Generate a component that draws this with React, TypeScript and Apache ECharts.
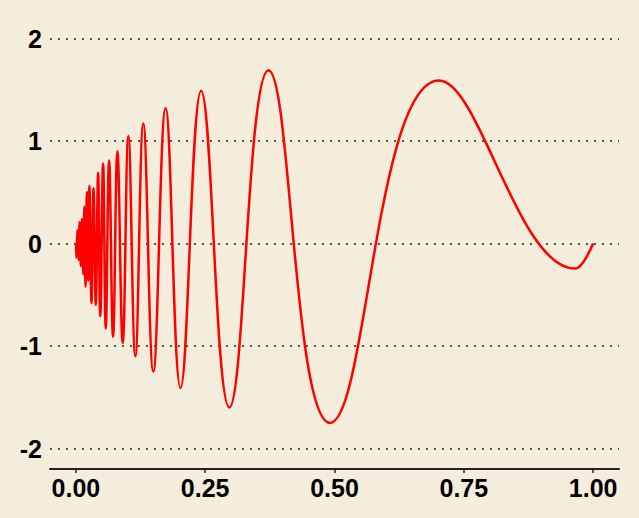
import React, { useEffect, useRef } from "react";
import * as echarts from "echarts";

const xTicks = [0, 0.25, 0.5, 0.75, 1];
const yTicks = [-2, -1, 0, 1, 2];

const xValues = [
  0.0004, 0.001, 0.0029, 0.0052, 0.0073, 0.0096, 0.0119, 0.0143, 0.0164, 0.0185,
  0.0215, 0.024, 0.0262, 0.0302, 0.0341, 0.0385, 0.043, 0.0472, 0.0526, 0.0578,
  0.0642, 0.0719, 0.0803, 0.0906, 0.1015, 0.115, 0.1304, 0.1497, 0.1734, 0.2023,
  0.2422, 0.2967, 0.3724, 0.4913, 0.7019, 0.9653, 1.0,
];
const yValues = [
  0, -0.14, 0.13, -0.16, 0.21, -0.22, 0.24, -0.3, 0.36, -0.42,
  0.5, -0.36, 0.56, -0.58, 0.54, -0.6, 0.69, -0.71, 0.78, -0.83,
  0.81, -0.91, 0.9, -0.97, 1.05, -1.1, 1.17, -1.25, 1.32, -1.41,
  1.49, -1.6, 1.69, -1.75, 1.59, -0.245, 0,
];

export default function App() {
  const ref = useRef<HTMLDivElement>(null);
  useEffect(() => {
    document.body.style.margin = "0";
    const chart = echarts.init(ref.current!, null, { renderer: "svg" });
    const labelStyle = {
      fontSize: 25,
      fontWeight: "bold" as const,
      color: "#000",
      fontFamily: "Liberation Sans, Arial, sans-serif",
    };
    chart.setOption({
      animation: false,
      backgroundColor: "#F5EDDC",
      grid: { left: 50, right: 20, top: 18, bottom: 49 },
      xAxis: {
        type: "value",
        min: -0.05,
        max: 1.05,
        axisLine: { show: true, onZero: false, lineStyle: { color: "#222", width: 2 } },
        axisTick: { show: true, customValues: xTicks, length: 4, lineStyle: { color: "#222", width: 1.5 } },
        axisLabel: { ...labelStyle, customValues: xTicks, margin: 6, formatter: (v: number) => v.toFixed(2) },
        splitLine: { show: false },
      },
      yAxis: {
        type: "value",
        min: -2.2,
        max: 2.2,
        axisLine: { show: false },
        axisTick: { show: false, customValues: yTicks },
        axisLabel: { ...labelStyle, customValues: yTicks, margin: 8, formatter: (v: number) => String(v) },
        splitLine: { show: true, lineStyle: { type: [2, 6], color: "#222", width: 1.5 } },
      },
      series: [
        {
          type: "line",
          data: xValues.map((x, i) => [x, yValues[i]]),
          showSymbol: false,
          smooth: 0.42,
          lineStyle: { color: "#FF0000", width: 2.5 },
        },
      ],
    });
    return () => chart.dispose();
  }, []);
  return <div ref={ref} style={{ position: "absolute", left: 0, top: 0, width: 639, height: 518 }} />;
}
